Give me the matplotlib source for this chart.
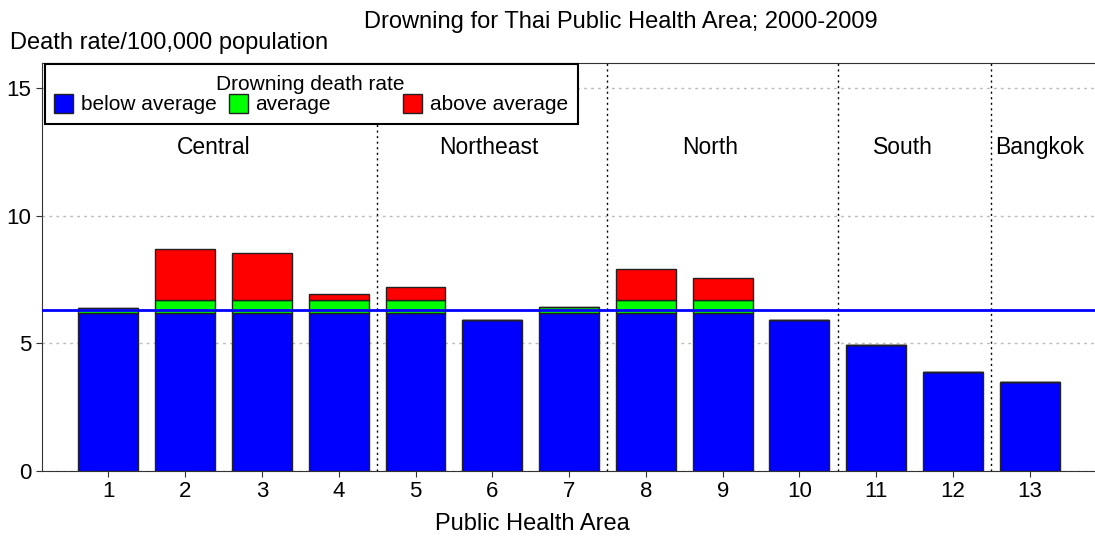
import numpy as np
import matplotlib.pyplot as plt
from matplotlib.patches import Rectangle

plt.rcParams['font.family'] = ['Liberation Sans', 'DejaVu Sans']
plt.rcParams['font.size'] = 16

areas = list(range(1, 14))
death_rate = [6.4, 8.7, 8.55, 6.95, 7.22, 5.92, 6.43, 7.92, 7.57, 5.92, 4.95, 3.88, 3.5]
low_cut = 6.2      # upper edge of "below average" band
high_cut = 6.7     # upper edge of "average" band
mean_rate = 6.3

regions = ["Central", "Northeast", "North", "South", "Bangkok"]
region_x = [2.37, 5.96, 8.84, 11.35, 13.13]
region_breaks = [4.5, 7.5, 10.5, 12.5]

band_labels = ["below average", "average", "above average"]
band_colors = ["#0000ff", "#00ff00", "#ff0000"]

rate = np.array(death_rate)
blue_part = np.minimum(rate, low_cut)
green_part = np.clip(rate, low_cut, high_cut) - low_cut
red_part = np.maximum(rate - high_cut, 0)

W, H = 1095, 538
fig = plt.figure(figsize=(W / 100, H / 100), dpi=100)
ax = fig.add_axes([0.038, 0.1245, 0.962, 0.7585])

w = 0.78
bottom = np.zeros(len(areas))
for part, col in zip([blue_part, green_part, red_part], band_colors):
    ax.bar(areas, part, w, bottom=bottom, color=col, edgecolor="#222222", linewidth=1, zorder=3)
    bottom = bottom + part

ax.axhline(mean_rate, color="#0000ff", lw=2, zorder=4)

for xb in region_breaks:
    ax.axvline(xb, color="black", ls=(0, (1.5, 2.5)), lw=1, zorder=2)
for name, xr in zip(regions, region_x):
    ax.text(xr, 12.7, name, ha="center", va="center", fontsize=16.5)

ax.set_xlim(0.13, 13.85)
ax.set_ylim(0, 16)
ax.set_xticks(areas)
ax.set_yticks([0, 5, 10, 15])
ax.tick_params(labelsize=16, length=4, color="#333333")
ax.yaxis.grid(True, color="#bbbbbb", ls=(0, (2, 3)), lw=1)
ax.set_axisbelow(True)
ax.spines["right"].set_visible(False)
for s in ["left", "bottom", "top"]:
    ax.spines[s].set_color("#333333")

ax.set_xlabel("Public Health Area", fontsize=17)
ax.xaxis.set_label_coords(0.466, -0.103)
fig.text(0.009, 0.92, "Death rate/100,000 population", fontsize=17, va="center")
fig.text(0.567, 0.959, "Drowning for Thai Public Health Area; 2000-2009", fontsize=17,
         ha="center", va="center")


# legend laid out in pixel units with equal-width columns
def px(x, y):
    return x / W, 1 - y / H


x0, y0 = px(45, 124)
x1, y1 = px(578, 64)
fig.add_artist(Rectangle((x0, y0), x1 - x0, y1 - y0, transform=fig.transFigure,
                         facecolor="white", edgecolor="black", lw=1.5, zorder=10))
fig.text(*px(310, 84), "Drowning death rate", fontsize=15, ha="center", va="center", zorder=11)
for i, (lab, col) in enumerate(zip(band_labels, band_colors)):
    hx = 54 + i * 174.5
    bx, by = px(hx, 113)
    fig.add_artist(Rectangle((bx, by), 19 / W, 19 / H, transform=fig.transFigure,
                             facecolor=col, edgecolor="#222222", lw=1, zorder=11))
    fig.text(*px(hx + 27, 105), lab, fontsize=15, ha="left", va="center", zorder=11)

fig.savefig("out.png", dpi=100)
